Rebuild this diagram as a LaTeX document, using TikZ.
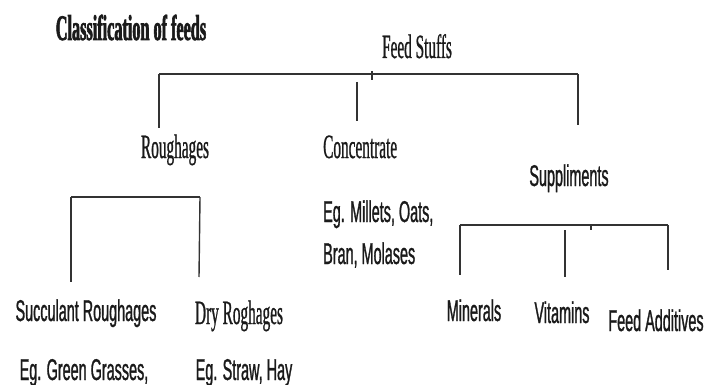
\documentclass[tikz,border=0pt]{standalone}
\usepackage{fontspec}
\newfontfamily\serifc[FakeStretch=0.45,FakeBold=0.7]{Liberation Serif}
\newfontfamily\serifbc[FakeStretch=0.45,FakeBold=1.6]{Liberation Serif Bold}
\newfontfamily\sansc[FakeStretch=0.48,FakeBold=0.9]{Liberation Sans}
\definecolor{ink}{HTML}{1A1A1A}
\definecolor{linec}{HTML}{333333}
\begin{document}
\begin{tikzpicture}[x=1pt,y=-1pt,
  lbl/.style={inner sep=0pt,anchor=base,text=ink},
  sertext/.style={lbl,font=\serifc\fontsize{34}{34}\selectfont},
  titletext/.style={lbl,font=\serifbc\fontsize{36}{36}\selectfont},
  santext/.style={lbl,font=\sansc\fontsize{30}{30}\selectfont},
  bar/.style={draw=linec,line width=2.8pt},
  drop/.style={draw=linec,line width=1.4pt},
  tick/.style={draw=linec,line width=1.2pt}]
\useasboundingbox[fill=white] (0,0) rectangle (706,385);
% texts
\node[titletext] (title) at (131,40) {Classification of feeds};
\node[sertext] (feed) at (417,58) {Feed Stuffs};
\node[sertext] (rough) at (175,158) {Roughages};
\node[sertext,anchor=base west] (conc) at (323,158) {Concentrate};
\node[santext,anchor=base west] (conceg1) at (323,222) {Eg. Millets, Oats,};
\node[santext,anchor=base west] (conceg2) at (323,264) {Bran, Molases};
\node[santext] (supp) at (569,186) {Suppliments};
\node[santext] (succ) at (86,321) {Succulant Roughages};
\node[sertext] (dry) at (239,324) {Dry Roghages};
\node[santext] (succeg) at (84,380) {Eg. Green Grasses,};
\node[santext] (dryeg) at (244,380) {Eg. Straw, Hay};
\node[santext] (min) at (474,321) {Minerals};
\node[santext] (vit) at (562,323) {Vitamins};
\node[santext] (add) at (656,331) {Feed Additives};
% bracket points
\coordinate (mL) at (159,74);
\coordinate (mR) at (578,74);
\coordinate (mLd) at (159,128);
\coordinate (mRd) at (578,125);
\coordinate (mMt) at (357,82);
\coordinate (mMd) at (357,121);
\coordinate (mTa) at (372,71);
\coordinate (mTb) at (372,80);
\coordinate (rL) at (71,197);
\coordinate (rR) at (200,197);
\coordinate (rLd) at (71,282);
\coordinate (rRd) at (199,277);
\coordinate (sL) at (460,225);
\coordinate (sR) at (668,225);
\coordinate (sLd) at (460,275);
\coordinate (sMt) at (565,230);
\coordinate (sMd) at (565,277);
\coordinate (sRd) at (668,270);
\coordinate (sTa) at (591,225);
\coordinate (sTb) at (591,230);
% connectors
\draw[bar] (mL) -- (mR);
\draw[drop] (mL) -- (mLd);
\draw[drop] (mR) -- (mRd);
\draw[drop] (mMt) -- (mMd);
\draw[tick] (mTa) -- (mTb);
\draw[bar] (rL) -- (rR);
\draw[drop] (rL) -- (rLd);
\draw[drop] (rR) -- (rRd);
\draw[bar] (sL) -- (sR);
\draw[drop] (sL) -- (sLd);
\draw[drop] (sMt) -- (sMd);
\draw[drop] (sR) -- (sRd);
\draw[tick] (sTa) -- (sTb);
\end{tikzpicture}
\end{document}
